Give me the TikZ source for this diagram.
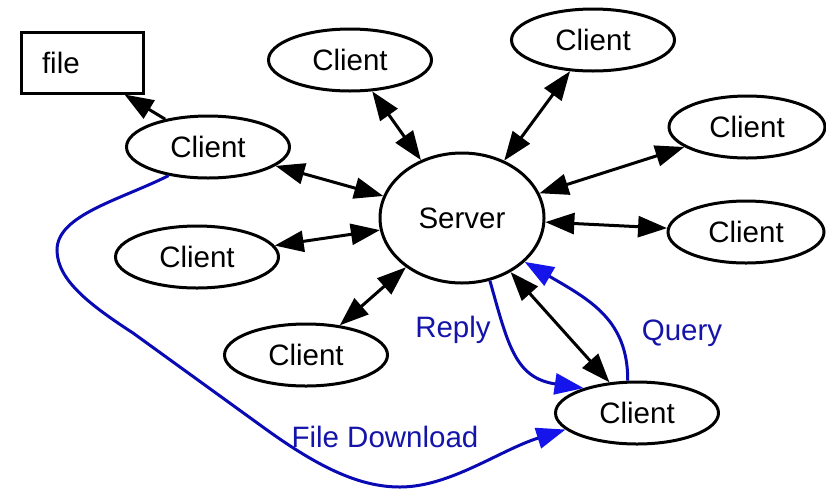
\documentclass[tikz,border=0pt]{standalone}
\usepackage{fontspec}
\setmainfont{Liberation Sans}
\usetikzlibrary{shapes.geometric,arrows.meta}
\definecolor{lineblue}{RGB}{10,10,180}
\definecolor{tipblue}{RGB}{20,20,235}
\definecolor{textblue}{RGB}{20,20,170}
\tikzset{
  client/.style={draw, ellipse, line width=3pt, minimum width=163pt, minimum height=62pt, inner sep=0pt, font=\fontsize{29.5}{35}\selectfont},
  filebox/.style={draw, rectangle, line width=3pt, minimum width=122pt, minimum height=61pt, inner xsep=21pt, text width=80pt, align=left, font=\fontsize{29.5}{35}\selectfont},
  link/.style={line width=3pt, {Triangle[length=29pt,width=21pt]}-{Triangle[length=29pt,width=21pt]}},
  onelink/.style={line width=3pt, -{Triangle[length=29pt,width=21pt]}},
  bluelink/.style={lineblue, line width=3pt, -{Triangle[length=29pt,width=21pt,color=tipblue]}},
  bluelabel/.style={textblue, font=\fontsize{29.5}{35}\selectfont, inner sep=0pt}
}
\begin{document}
\begin{tikzpicture}[x=1pt,y=-1pt]
\useasboundingbox (0,0) rectangle (826,488);
\node[filebox] (file) at (82,62.5) {file};
\node[client, minimum width=164pt, minimum height=130pt] (srv) at (462,218) {Server};
\node[client] (ctl) at (208,147) {Client};
\node[client] (ctop) at (350,60) {Client};
\node[client] (ctr) at (593,40) {Client};
\node[client, minimum width=156pt] (cr1) at (747,127) {Client};
\node[client, minimum width=156pt] (cr2) at (746,232) {Client};
\node[client] (clm) at (197,257) {Client};
\node[client] (cbl) at (306,355) {Client};
\node[client] (cbr) at (637,413) {Client};

\draw[onelink] (ctl.147) -- (file.-37);
\draw[link] (ctl) -- (srv);
\draw[link] (ctop) -- (srv);
\draw[link] (ctr) -- (srv);
\draw[link] (cr1) -- (srv);
\draw[link] (cr2) -- (srv);
\draw[link] (clm) -- (srv);
\draw[link] (cbl) -- (srv);
\draw[link] (cbr) -- (srv);

\draw[bluelink] (srv.-66.6) .. controls (508,345) and (515,378) .. (cbr.155.5);
\draw[bluelink] (cbr.106) .. controls (628,320) and (590,300) .. (srv.-35.5);
\draw[bluelink] (ctl.216.6) .. controls (120,200) and (57,215) .. (57,250)
  .. controls (57,280) and (90,305) .. (133,333)
  -- (267,430) .. controls (320,468) and (360,487) .. (400,487)
  .. controls (450,487) and (500,450) .. (cbr.193.3);

\node[bluelabel] (lreply) at (453,330) {Reply};
\node[bluelabel] (lquery) at (682,333) {Query};
\node[bluelabel] (ldown) at (385,437) {File Download};
\end{tikzpicture}
\end{document}
